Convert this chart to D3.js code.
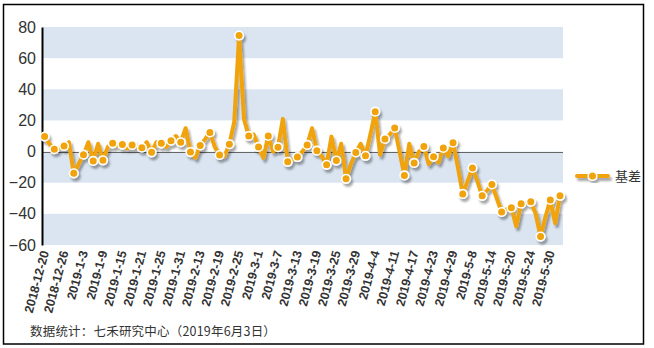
<!DOCTYPE html>
<html><head><meta charset="utf-8">
<script src="https://cdn.jsdelivr.net/npm/d3@7"></script>
<style>
html,body{margin:0;padding:0;background:#fff;}
svg{display:block;font-family:"Liberation Sans",Arial,sans-serif;}
</style></head>
<body>
<script>
const dates = ["2018-12-20","2018-12-21","2018-12-24","2018-12-25","2018-12-26","2018-12-27","2018-12-28",
"2019-1-2","2019-1-3","2019-1-4","2019-1-7","2019-1-8","2019-1-9","2019-1-10","2019-1-11","2019-1-14","2019-1-15",
"2019-1-16","2019-1-17","2019-1-18","2019-1-21","2019-1-22","2019-1-23","2019-1-24","2019-1-25","2019-1-28","2019-1-29",
"2019-1-30","2019-1-31","2019-2-1","2019-2-11","2019-2-12","2019-2-13","2019-2-14","2019-2-15","2019-2-18","2019-2-19",
"2019-2-20","2019-2-21","2019-2-22","2019-2-25","2019-2-26","2019-2-27","2019-2-28","2019-3-1","2019-3-4","2019-3-5",
"2019-3-6","2019-3-7","2019-3-8","2019-3-11","2019-3-12","2019-3-13","2019-3-14","2019-3-15","2019-3-18","2019-3-19",
"2019-3-20","2019-3-21","2019-3-22","2019-3-25","2019-3-26","2019-3-27","2019-3-28","2019-3-29","2019-4-1","2019-4-2",
"2019-4-3","2019-4-4","2019-4-8","2019-4-9","2019-4-10","2019-4-11","2019-4-12","2019-4-15","2019-4-16","2019-4-17",
"2019-4-18","2019-4-19","2019-4-22","2019-4-23","2019-4-24","2019-4-25","2019-4-26","2019-4-29","2019-4-30","2019-5-6",
"2019-5-7","2019-5-8","2019-5-9","2019-5-10","2019-5-13","2019-5-14","2019-5-15","2019-5-16","2019-5-17","2019-5-20",
"2019-5-21","2019-5-22","2019-5-23","2019-5-24","2019-5-27","2019-5-28","2019-5-29","2019-5-30","2019-5-31","2019-6-3"];

const basis = [9.6,5,1.5,2,3.6,6,-14,-8,-2,6,-6,5,-5.6,3,5.3,4,4.5,2,4.3,3,
2.5,6,-0.5,6,5.3,3,7,10,6,15,-0.3,-4,3.9,8,12.3,3,-2.2,-3,4.7,19,
74.5,21,10,11,3,-4,10,0,2.8,21,-6.6,-5,-3.5,0,4.3,15,0.6,-3,-8.5,9.6,
-5.8,5,-17.5,-8,-0.6,5,-2.7,11,25.6,-2,8.1,11,15.2,0,-15.3,5,-7.3,0,3.2,-8,
-3.4,-7,2.3,-3,5.7,-10,-27.2,-19,-10.5,-19,-28.4,-25,-21.1,-30,-38.8,-37,-36,-48,-33.5,-33,
-32.3,-40,-54.6,-42,-31.1,-46,-28.4];

const yTicks = [-60,-40,-20,0,20,40,60,80];
const seriesName = "基差";
const footnote = "数据统计：七禾研究中心（2019年6月3日）";

const W = 654, H = 348;
const svg = d3.select("body").append("svg").attr("width", W).attr("height", H);

const defs = svg.append("defs");
const f = defs.append("filter").attr("id","sh").attr("x","-10%").attr("y","-10%").attr("width","130%").attr("height","130%");
f.append("feDropShadow").attr("dx",2).attr("dy",3).attr("stdDeviation",1.3)
  .attr("flood-color","#000").attr("flood-opacity",0.35);

const plotL = 43, plotR = 563;
const x = d3.scalePoint().domain(dates).range([44.6, 560]);
const y = d3.scaleLinear().domain([-60, 80]).range([245, 27]);

// bands
const bandPairs = [[60,80],[20,40],[-20,0],[-60,-40]];
svg.append("g").selectAll("rect").data(bandPairs).join("rect")
  .attr("x", plotL).attr("width", plotR - plotL)
  .attr("y", d => y(d[1])).attr("height", d => y(d[0]) - y(d[1]))
  .attr("fill", "#dbe5f1");

// zero line
svg.append("line").attr("x1", plotL).attr("x2", plotR)
  .attr("y1", Math.round(y(0))+0.5).attr("y2", Math.round(y(0))+0.5)
  .attr("stroke", "#666").attr("stroke-width", 1.2);

// y axis
const yAxis = svg.append("g").attr("transform", `translate(${plotL-1},0)`)
  .call(d3.axisLeft(y).tickValues(yTicks).tickSize(0).tickPadding(6));
yAxis.select(".domain").attr("stroke", "#000").attr("stroke-width", 2);
yAxis.selectAll("text").attr("font-size", 16).attr("fill", "#333")
  .attr("font-family", "'Liberation Sans',Arial,sans-serif");

// x axis labels
const xLabels = dates.filter((d, i) => i % 4 === 0);
const xAxis = svg.append("g").attr("transform", `translate(0,245)`)
  .call(d3.axisBottom(x).tickValues(xLabels).tickSize(0));
xAxis.select(".domain").remove();
xAxis.selectAll("text")
  .attr("font-size", 12.5).attr("font-weight", "bold").attr("fill", "#333")
  .attr("font-family", "'Liberation Sans',Arial,sans-serif")
  .attr("text-anchor", "end").attr("y", 0).attr("dy", 0)
  .attr("transform", "translate(4,7) rotate(-75)");

// series
const data = dates.map((d, i) => ({d, v: basis[i], i}));
const g = svg.append("g").attr("filter", "url(#sh)");
g.append("path").datum(data)
  .attr("fill", "none").attr("stroke", "#f0a30a").attr("stroke-width", 4)
  .attr("stroke-linejoin", "round").attr("stroke-linecap", "round")
  .attr("d", d3.line().x(p => x(p.d)).y(p => y(p.v)));
g.selectAll("circle").data(data.filter(p => p.i % 2 === 0)).join("circle")
  .attr("cx", p => x(p.d)).attr("cy", p => y(p.v)).attr("r", 4.3)
  .attr("fill", "#f0a30a").attr("stroke", "#fff").attr("stroke-width", 1.6);

// legend
const lg = svg.append("g").attr("transform", "translate(577,176)");
const lgi = lg.append("g").attr("filter", "url(#sh)");
lgi.append("line").attr("x1", 0).attr("x2", 31).attr("y1", 0).attr("y2", 0)
  .attr("stroke", "#f0a30a").attr("stroke-width", 4).attr("stroke-linecap", "round");
lgi.append("circle").attr("cx", 15.5).attr("cy", 0).attr("r", 4.3)
  .attr("fill", "#f0a30a").attr("stroke", "#fff").attr("stroke-width", 1.6);
lg.append("text").attr("x", 38).attr("y", 0).attr("dy", "0.36em")
  .attr("font-size", 13).attr("fill", "#333")
  .attr("font-family", "'Noto Sans CJK SC',sans-serif").text(seriesName);

// footnote
svg.append("text").attr("x", 30).attr("y", 336)
  .attr("font-size", 12.5).attr("fill", "#333").attr("letter-spacing", 0.2)
  .attr("font-family", "'Noto Sans CJK SC',sans-serif").text(footnote);

// border
svg.append("rect").attr("x", 3.5).attr("y", 4.5).attr("width", 640).attr("height", 339.5)
  .attr("fill", "none").attr("stroke", "#000").attr("stroke-width", 1.5);
</script>
</body></html>
